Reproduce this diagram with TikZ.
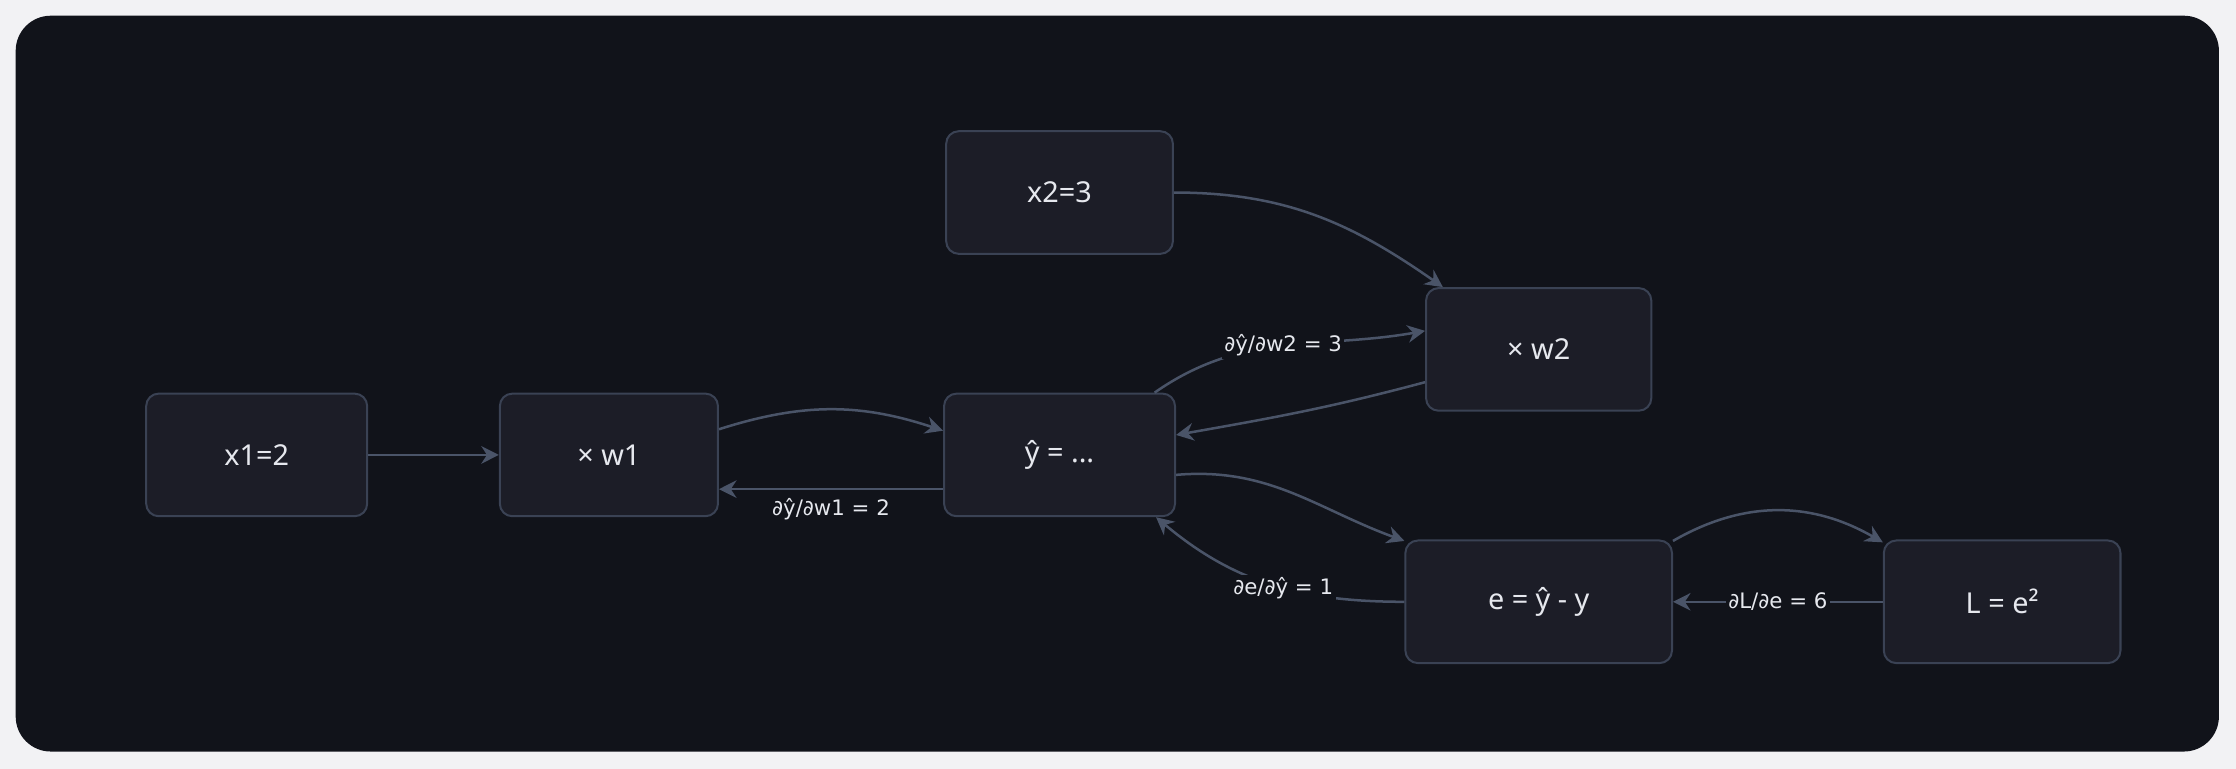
\documentclass[tikz,border=0pt]{standalone}
\usepackage{fontspec}
\setmainfont{Noto Sans}
\newfontfamily\gradfont{DejaVu Sans}
\usetikzlibrary{arrows.meta, positioning}
\definecolor{pagebg}{HTML}{F2F2F4}
\definecolor{panelbg}{HTML}{11131A}
\definecolor{boxbg}{HTML}{1C1D27}
\definecolor{boxline}{HTML}{3A4254}
\definecolor{wire}{HTML}{4A5468}
\definecolor{txt}{HTML}{E6E8EE}
\begin{document}
\begin{tikzpicture}[
        x=0.02cm, y=-0.02cm,
        block/.style={draw=boxline, fill=boxbg, rounded corners=5pt, line width=0.8pt, minimum height=1.72cm, text=txt, font=\fontsize{11.5}{13}\selectfont},
        flow/.style={-{Stealth[length=7pt, width=7pt]}, draw=wire, line width=1pt},
        grad/.style={font=\gradfont\fontsize{8.5}{10}\selectfont, text=txt, fill=panelbg, inner sep=1pt}
    ]
        % Panel
        \fill[pagebg] (0,0) rectangle (1568,539);
        \fill[panelbg, rounded corners=14pt] (11,11) rectangle (1556,527);
        \useasboundingbox (0,0) rectangle (1568,539);

        % Nodes
        \node (xone) [block, minimum width=3.1cm] at (180,319) {x1=2};
        \node (wone) [block, minimum width=3.06cm] at (427,319) {× w1};
        \node (yhat) [block, minimum width=3.24cm] at (743,319) {ŷ = ...};
        \node (xtwo) [block, minimum width=3.18cm] at (743,135) {x2=3};
        \node (wtwo) [block, minimum width=3.16cm] at (1079,245) {× w2};
        \node (err) [block, minimum width=3.74cm] at (1079,422) {e = ŷ - y};
        \node (loss) [block, minimum width=3.32cm] at (1404,422) {L = e²};

        % Forward
        \draw[flow] (xone) -- (wone);
        \draw[flow] ([yshift=0.36cm]wone.east) to[bend left=18] ([yshift=0.34cm]yhat.west);
        \draw[flow] (xtwo.east) to[out=0, in=145] ([xshift=0.25cm]wtwo.north west);
        \draw[flow] ([xshift=-0.3cm]yhat.north east) to[out=35, in=190] node[grad, pos=0.5] {∂ŷ/∂w2 = 3} ([yshift=0.26cm]wtwo.west);
        \draw[flow] ([yshift=-0.28cm]yhat.east) to[out=5, in=160] ([yshift=-0.02cm]err.north west);
        \draw[flow] ([yshift=-0.02cm]err.north east) to[out=30, in=150] ([yshift=-0.04cm]loss.north west);

        % Backward
        \draw[flow] ([yshift=-0.48cm]yhat.west) -- node[grad, pos=0.5, below=2pt] {∂ŷ/∂w1 = 2} ([yshift=-0.48cm]wone.east);
        \draw[flow] ([yshift=-0.46cm]wtwo.west) to[out=195, in=10] ([yshift=0.28cm]yhat.east);
        \draw[flow] (err.west) to[out=180, in=-40] node[grad, pos=0.45] {∂e/∂ŷ = 1} ([xshift=-0.28cm]yhat.south east);
        \draw[flow] (loss.west) -- node[grad] {∂L/∂e = 6} (err.east);
    \end{tikzpicture}
\end{document}
